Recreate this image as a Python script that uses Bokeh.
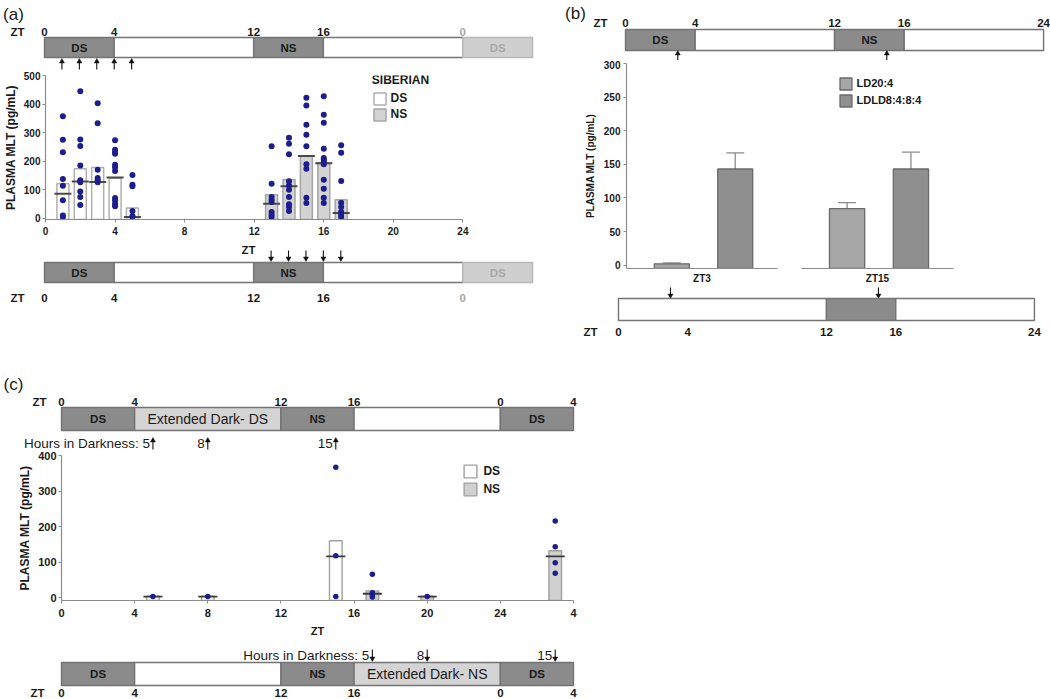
from bokeh.plotting import figure
from bokeh.models import (Range1d, FixedTicker, Legend, LegendItem, Whisker,
                          TeeHead, ColumnDataSource)
from bokeh.layouts import column, row
from bokeh.core.properties import value
from bokeh.embed import file_html
from bokeh.resources import INLINE

# ======================= DATA =======================
# ---- (a) Siberian hamsters: DS sampled ZT1-5, NS sampled ZT13-17
a_ds_zt = [1, 2, 3, 4, 5]
a_ds_mean = [121, 174, 178, 140, 36]
a_ds_median = [86, 129, 127, 143, 5]
a_ns_zt = [13, 14, 15, 16, 17]
a_ns_mean = [83, 136, 218, 195, 65]
a_ns_median = [51, 112, 218, 193, 19]
a_pts_zt1 = [357, 275, 231, 138, 114, 63, 10, 5]
a_pts_zt2 = [445, 276, 253, 185, 133, 126, 94, 75, 47]
a_pts_zt3 = [403, 333, 170, 141, 133, 126]
a_pts_zt4 = [273, 240, 232, 226, 188, 179, 166, 71, 63, 51, 42]
a_pts_zt5 = [152, 118, 112, 26, 8, 4]
a_pts_zt13 = [252, 121, 75, 65, 57, 22, 13, 5]
a_pts_zt14 = [282, 261, 224, 130, 115, 100, 75, 49, 40, 26]
a_pts_zt15 = [422, 395, 328, 293, 252, 189, 174, 72, 54]
a_pts_zt16 = [427, 363, 335, 244, 211, 205, 197, 189, 135, 104, 72, 54]
a_pts_zt17 = [256, 230, 131, 55, 40, 22, 13, 5]
a_xticks = [0, 4, 8, 12, 16, 20, 24]
a_yticks = [0, 100, 200, 300, 400, 500]
a_legend_title = "SIBERIAN"
a_sched_start = [0, 4, 12, 16, 24]
a_sched_end = [4, 12, 16, 24, 28]
a_sched_label = ["DS", "", "NS", "", "DS"]
a_sched_ticks = [0, 4, 12, 16, 24]
a_sched_tick_labels = ["0", "4", "12", "16", "0"]

# ---- (b) LD20:4 vs LDLD8:4:8:4 at ZT3 and ZT15
b_groups = ["ZT3", "ZT15"]
b_group_zt = [3, 15]
b_series = ["LD20:4", "LDLD8:4:8:4"]
b_ld20_mean = [2, 84]
b_ld20_sem = [1.5, 9]
b_ldld_mean = [143, 143]
b_ldld_sem = [24, 25]
b_yticks = [0, 50, 100, 150, 200, 250, 300]
b_top_start = [0, 4, 12, 16]
b_top_end = [4, 12, 16, 24]
b_top_label = ["DS", "", "NS", ""]
b_bot_start = [0, 12, 16]
b_bot_end = [12, 16, 24]
b_sched_ticks = [0, 4, 12, 16, 24]
b_sched_tick_labels = ["0", "4", "12", "16", "24"]

# ---- (c) extended darkness
c_hours_dark = [5, 8, 15]
c_ds_zt = [5, 8, 15]
c_ds_mean = [4, 4, 160]
c_ds_median = [3, 3, 116]
c_ns_zt = [17, 20, 27]
c_ns_mean = [19, 4, 132]
c_ns_median = [11, 3, 116]
c_pts_zt5 = [3]
c_pts_zt8 = [3]
c_pts_zt15 = [367, 118, 3]
c_pts_zt17 = [66, 14, 8, 2]
c_pts_zt20 = [3]
c_pts_zt27 = [216, 143, 98, 69]
c_xticks = [0, 4, 8, 12, 16, 20, 24, 28]
c_xtick_labels = ["0", "4", "8", "12", "16", "20", "24", "4"]
c_yticks = [0, 100, 200, 300, 400]
c_sched_start = [0, 4, 12, 16, 24]
c_sched_end = [4, 12, 16, 24, 28]
c_top_label = ["DS", "Extended Dark- DS", "NS", "", "DS"]
c_bot_label = ["DS", "", "NS", "Extended Dark- NS", "DS"]
c_sched_ticks = [0, 4, 12, 16, 24, 28]
c_sched_tick_labels = ["0", "4", "12", "16", "0", "4"]

# ======================= STYLE =======================
FONT = "Liberation Sans"
INK = "#1a1a1a"
DOT = "#1d1d8c"
SEG_DARK = "#8b8b8b"
SEG_LIGHT = "#d4d4d4"
SEG_EDGE = "#737373"
AXIS = "#8c8c8c"


def strip(w, h, xr, y_bottom, y_top):
    p = figure(width=w, height=h, x_range=xr, y_range=Range1d(y_bottom, y_top),
               x_axis_type=None, y_axis_type=None, output_backend="svg",
               toolbar_location=None, min_border=0, frame_align=False)
    p.outline_line_color = None
    p.background_fill_color = "white"
    p.border_fill_color = "white"
    return p


def put_text(p, xs, y, texts, size="11.5px", style="bold", color=INK,
             align="center", x_offset=0):
    p.text(x=xs, y=y, text=texts, text_font=value(FONT), text_font_size=size,
           text_font_style=style, text_color=color, text_align=align,
           text_baseline="middle", x_offset=x_offset)


def schedule(p, starts, ends, fills, edges, y_top, y_bot, labels, label_colors):
    p.quad(left=starts, right=ends, top=y_top, bottom=y_bot, fill_color=fills,
           line_color=edges, line_width=1.4)
    mb, tb, cb, mr, tr, cr = [], [], [], [], [], []
    for s, e, lab, col in zip(starts, ends, labels, label_colors):
        if not lab:
            continue
        if lab in ("DS", "NS"):
            mb.append((s + e) / 2); tb.append(lab); cb.append(col)
        else:
            mr.append((s + e) / 2); tr.append(lab); cr.append(col)
    yc = (y_top + y_bot) / 2
    if mb:
        put_text(p, mb, yc, tb, color=cb)
    if mr:
        put_text(p, mr, yc, tr, size="14px", style="normal", color=cr)


def arrows(p, xs, y_tail, y_head, up=True, size=5):
    p.segment(x0=xs, y0=y_tail, x1=xs, y1=y_head, line_color="#111111", line_width=1.1)
    p.scatter(x=xs, y=y_head, marker="triangle" if up else "inverted_triangle",
              size=size, fill_color="#111111", line_color="#111111", line_width=0.5)


def main_fig(w, h, xr, yr, mbl, mbr, mbt, mbb):
    p = figure(width=w, height=h, x_range=xr, y_range=yr, output_backend="svg",
               toolbar_location=None, min_border_left=mbl, min_border_right=mbr,
               min_border_top=mbt, min_border_bottom=mbb, frame_align=False)
    p.xgrid.visible = False
    p.ygrid.visible = False
    p.outline_line_color = None
    p.background_fill_color = "white"
    p.border_fill_color = "white"
    return p


def style_axis(ax, size):
    ax.axis_line_color = AXIS
    ax.axis_line_width = 1.2
    ax.major_tick_line_color = AXIS
    ax.minor_tick_line_color = None
    ax.major_tick_out = 3
    ax.major_tick_in = 0
    ax.major_label_text_font = FONT
    ax.major_label_text_font_style = "bold"
    ax.major_label_text_font_size = size
    ax.major_label_text_color = INK
    ax.axis_label_text_font = FONT
    ax.axis_label_text_font_style = "bold"
    ax.axis_label_text_color = INK


def flatten(zts, lists):
    xs, ys = [], []
    for zt, pts in zip(zts, lists):
        xs += [zt] * len(pts)
        ys += pts
    return xs, ys


# ======================= PANEL (a) =======================
AX0, APX = 44.0, 17.43
def ax_(px):
    return (px - AX0) / APX

A_W = 560
a_fill = [SEG_DARK, "white", SEG_DARK, "white", "#cfcfcf"]
a_edge = [SEG_EDGE] * 4 + ["#b8b8b8"]
a_lab_col = [INK, INK, INK, INK, "#a8a8a8"]
a_tick_col = [INK] * 4 + ["#a8a8a8"]

a_top = strip(A_W, 70, Range1d(ax_(0), ax_(A_W)), 70, 0)
put_text(a_top, [ax_(13)], 14, ["(a)"], size="17px", style="normal")
put_text(a_top, [ax_(17)], 31, ["ZT"])
put_text(a_top, a_sched_ticks, 31, a_sched_tick_labels, color=a_tick_col)
schedule(a_top, a_sched_start, a_sched_end, a_fill, a_edge, 37, 57, a_sched_label, a_lab_col)
arrows(a_top, a_ds_zt, 69, 61, up=True)

A_FLOOR = -4
pa = main_fig(A_W, 171, Range1d(0, 28), Range1d(A_FLOOR, 500), 44, 28, 5, 22)
style_axis(pa.xaxis, "10px")
style_axis(pa.yaxis, "10px")
pa.xaxis.ticker = FixedTicker(ticks=a_xticks)
pa.xaxis.bounds = (0, 24)
pa.xaxis.major_label_standoff = 4
pa.yaxis.ticker = FixedTicker(ticks=a_yticks)
pa.yaxis.bounds = (A_FLOOR, 500)
pa.yaxis.axis_label = "PLASMA MLT (pg/mL)"
pa.yaxis.axis_label_text_font_size = "12px"
pa.yaxis.major_label_standoff = 2
pa.yaxis.axis_label_standoff = 3
r_a_ds = pa.vbar(x=a_ds_zt, top=a_ds_mean, bottom=A_FLOOR, width=0.69,
                 fill_color="white", line_color="#b0b0b0", line_width=1.5)
r_a_ns = pa.vbar(x=a_ns_zt, top=a_ns_mean, bottom=A_FLOOR, width=0.69,
                 fill_color="#d3d3d3", line_color="#a5a5a5", line_width=1.5)
pa.scatter(x=a_ds_zt + a_ns_zt, y=a_ds_median + a_ns_median, marker="dash",
           size=17, line_color="#4a4a4a", line_width=2)
axs, ays = flatten(a_ds_zt + a_ns_zt,
                   [a_pts_zt1, a_pts_zt2, a_pts_zt3, a_pts_zt4, a_pts_zt5,
                    a_pts_zt13, a_pts_zt14, a_pts_zt15, a_pts_zt16, a_pts_zt17])
pa.scatter(x=axs, y=ays, size=6, fill_color=DOT, line_color=None)
leg_a = Legend(items=[LegendItem(label="DS", renderers=[r_a_ds]),
                      LegendItem(label="NS", renderers=[r_a_ns])],
               location=(326.5, 97.5),
               label_text_font=FONT, label_text_font_style="bold",
               label_text_font_size="12px", label_text_color=INK,
               glyph_width=15, glyph_height=15, label_height=15,
               spacing=1, label_standoff=4, padding=0, margin=0,
               border_line_color=None, background_fill_alpha=0)
pa.add_layout(leg_a)
# legend heading, drawn as text just above the legend boxes
pa.text(x=[ax_(371)], y=[486], text=[a_legend_title], text_font=value(FONT),
        text_font_size="12px", text_font_style="bold", text_color=INK,
        text_align="left", text_baseline="middle")

a_bot = strip(A_W, 99, Range1d(ax_(0), ax_(A_W)), 340, 241)
put_text(a_bot, [ax_(248)], 249, ["ZT"])
arrows(a_bot, a_ns_zt, 250, 258, up=False)
schedule(a_bot, a_sched_start, a_sched_end, a_fill, a_edge, 262, 282, a_sched_label, a_lab_col)
put_text(a_bot, [ax_(17)], 297, ["ZT"])
put_text(a_bot, a_sched_ticks, 297, a_sched_tick_labels, color=a_tick_col)

# ======================= PANEL (b) =======================
BX0, BPX = 625.0, 17.42
def bx_(px):
    return (px - BX0) / BPX
BBX0, BBPX = 618.0, 17.33
def bbx_(px):
    return (px - BBX0) / BBPX

B_L, B_R = 560, 1050
b_top = strip(B_R - B_L, 60, Range1d(bx_(B_L), bx_(B_R)), 60, 0)
put_text(b_top, [bx_(575)], 13, ["(b)"], size="17px", style="normal")
put_text(b_top, [bx_(600)], 22, ["ZT"])
put_text(b_top, b_sched_ticks, 22, b_sched_tick_labels)
schedule(b_top, b_top_start, b_top_end, [SEG_DARK, "white", SEG_DARK, "white"],
         SEG_EDGE, 29, 50, b_top_label, [INK] * 4)
arrows(b_top, b_group_zt, 59.5, 53, up=True)

B_FLOOR = -5
B_POS = [0.30, 0.72]
B_W = 0.232
LD_COL = "#a6a6a6"
LDLD_COL = "#8f8f8f"


def b_fig(i, w, mbl, mbr):
    p = main_fig(w, 226, Range1d(0, 1), Range1d(B_FLOOR, 300), mbl, mbr, 3, 17)
    style_axis(p.xaxis, "10px")
    style_axis(p.yaxis, "10px")
    p.xaxis.ticker = FixedTicker(ticks=[0.5])
    p.xaxis.major_label_overrides = {0.5: b_groups[i]}
    p.xaxis.major_tick_out = 0
    p.xaxis.major_label_standoff = 4
    p.yaxis.ticker = FixedTicker(ticks=b_yticks)
    p.yaxis.bounds = (B_FLOOR, 300)
    p.yaxis.axis_label = "PLASMA MLT (pg/mL)"
    p.yaxis.axis_label_text_font_size = "10px"
    p.yaxis.major_label_standoff = 3
    p.yaxis.axis_label_standoff = 5
    r1 = p.vbar(x=[B_POS[0]], top=[b_ld20_mean[i]], bottom=B_FLOOR, width=B_W,
                fill_color=LD_COL, line_color="#6a6a6a", line_width=1.3)
    r2 = p.vbar(x=[B_POS[1]], top=[b_ldld_mean[i]], bottom=B_FLOOR, width=B_W,
                fill_color=LDLD_COL, line_color="#6a6a6a", line_width=1.3)
    src = ColumnDataSource(dict(
        x=B_POS,
        lower=[b_ld20_mean[i], b_ldld_mean[i]],
        upper=[b_ld20_mean[i] + b_ld20_sem[i], b_ldld_mean[i] + b_ldld_sem[i]]))
    wk = Whisker(source=src, base="x", lower="lower", upper="upper",
                 dimension="height", line_color="#8c8c8c", line_width=1.3,
                 upper_head=TeeHead(size=18, line_color="#8c8c8c", line_width=1.3),
                 lower_head=None)
    p.add_layout(wk)
    return p, r1, r2


pb1, _, _ = b_fig(0, 229, 66, 12)
pb2, r_ld, r_ldld = b_fig(1, B_R - B_L - 229, 12, B_R - B_L - 229 - 12 - 152)
pb2.yaxis.visible = False
leg_b = Legend(items=[LegendItem(label=b_series[0], renderers=[r_ld]),
                      LegendItem(label=b_series[1], renderers=[r_ldld])],
               location=(36.5, 160.5),
               label_text_font=FONT, label_text_font_style="bold",
               label_text_font_size="11px", label_text_color=INK,
               glyph_width=15, glyph_height=15, label_height=15, spacing=2,
               label_standoff=4, padding=0, margin=0, border_line_color=None,
               background_fill_alpha=0)
pb2.add_layout(leg_b)

b_bot = strip(B_R - B_L, 54, Range1d(bbx_(B_L), bbx_(B_R)), 340, 286)
arrows(b_bot, b_group_zt, 287, 295, up=False)
schedule(b_bot, b_bot_start, b_bot_end, ["white", SEG_DARK, "white"], SEG_EDGE,
         298, 320, ["", "", ""], [INK] * 3)
put_text(b_bot, [bbx_(590)], 331, ["ZT"])
put_text(b_bot, b_sched_ticks, 331, b_sched_tick_labels)

# ======================= PANEL (c) =======================
CX0, CPX = 61.0, 512.0 / 28
def cx_(px):
    return (px - CX0) / CPX

C_W = 600
c_fill = [SEG_DARK, SEG_LIGHT, SEG_DARK, "white", SEG_DARK]
c_fill_b = [SEG_DARK, "white", SEG_DARK, SEG_LIGHT, SEG_DARK]
hours_txt = ["Hours in Darkness: %d" % c_hours_dark[0]] + [str(h) for h in c_hours_dark[1:]]

c_top = strip(C_W, 111, Range1d(cx_(0), cx_(C_W)), 451, 340)
put_text(c_top, [cx_(13)], 384, ["(c)"], size="17px", style="normal")
put_text(c_top, [cx_(39)], 401, ["ZT"])
put_text(c_top, c_sched_ticks, 401, c_sched_tick_labels)
schedule(c_top, c_sched_start, c_sched_end, c_fill, SEG_EDGE, 407, 430,
         c_top_label, [INK] * 5)
ds_arrow_zt = [0 + h for h in c_hours_dark]
put_text(c_top, ds_arrow_zt, 443, hours_txt, size="13.5px", style="normal",
         align="right", x_offset=-3)
arrows(c_top, ds_arrow_zt, 449, 440, up=True, size=5)

C_FLOOR = -8
pc = main_fig(C_W, 191, Range1d(0, 28), Range1d(C_FLOOR, 400), 61, 27, 4, 42)
style_axis(pc.xaxis, "11px")
style_axis(pc.yaxis, "11px")
pc.xaxis.ticker = FixedTicker(ticks=c_xticks)
pc.xaxis.major_label_overrides = {v: l for v, l in zip(c_xticks, c_xtick_labels)}
pc.xaxis.major_label_standoff = 5
pc.xaxis.axis_label = "ZT"
pc.xaxis.axis_label_text_font_size = "11px"
pc.xaxis.axis_label_standoff = 5
pc.yaxis.ticker = FixedTicker(ticks=c_yticks)
pc.yaxis.bounds = (C_FLOOR, 400)
pc.yaxis.axis_label = "PLASMA MLT (pg/mL)"
pc.yaxis.axis_label_text_font_size = "12px"
pc.yaxis.major_label_standoff = 2
pc.yaxis.axis_label_standoff = 3
r_c_ds = pc.vbar(x=c_ds_zt, top=c_ds_mean, bottom=C_FLOOR, width=0.69,
                 fill_color="white", line_color="#a0a0a0", line_width=1.4)
r_c_ns = pc.vbar(x=c_ns_zt, top=c_ns_mean, bottom=C_FLOOR, width=0.69,
                 fill_color="#d0d0d0", line_color="#a0a0a0", line_width=1.4)
pc.scatter(x=c_ds_zt + c_ns_zt, y=c_ds_median + c_ns_median, marker="dash",
           size=19, line_color="#3a3a3a", line_width=1.8)
cxs, cys = flatten(c_ds_zt + c_ns_zt,
                   [c_pts_zt5, c_pts_zt8, c_pts_zt15, c_pts_zt17, c_pts_zt20, c_pts_zt27])
pc.scatter(x=cxs, y=cys, size=5.5, fill_color=DOT, line_color=None)
leg_c = Legend(items=[LegendItem(label="DS", renderers=[r_c_ds]),
                      LegendItem(label="NS", renderers=[r_c_ns])],
               location=(401.4, 103.4),
               label_text_font=FONT, label_text_font_style="bold",
               label_text_font_size="12px", label_text_color=INK,
               glyph_width=16, glyph_height=16, label_height=16, spacing=2,
               label_standoff=5, padding=0, margin=0, border_line_color=None,
               background_fill_alpha=0)
pc.add_layout(leg_c)

c_bot = strip(C_W, 57, Range1d(cx_(0), cx_(C_W)), 699, 642)
ns_arrow_zt = [12 + h for h in c_hours_dark]
put_text(c_bot, ns_arrow_zt, 655, hours_txt, size="13.5px", style="normal",
         align="right", x_offset=-3)
arrows(c_bot, ns_arrow_zt, 649, 658, up=False, size=5)
schedule(c_bot, c_sched_start, c_sched_end, c_fill_b, SEG_EDGE, 662, 685,
         c_bot_label, [INK] * 5)
put_text(c_bot, [cx_(37)], 692, ["ZT"])
put_text(c_bot, c_sched_ticks, 692, c_sched_tick_labels)

# ======================= LAYOUT =======================
col_a = column(a_top, pa, a_bot, spacing=0)
col_b = column(b_top, row(pb1, pb2, spacing=0), b_bot, spacing=0)
col_c = column(c_top, pc, c_bot, spacing=0)
layout = column(row(col_a, col_b, spacing=0), col_c, spacing=0)

open("out.html", "w").write(file_html(layout, INLINE))
